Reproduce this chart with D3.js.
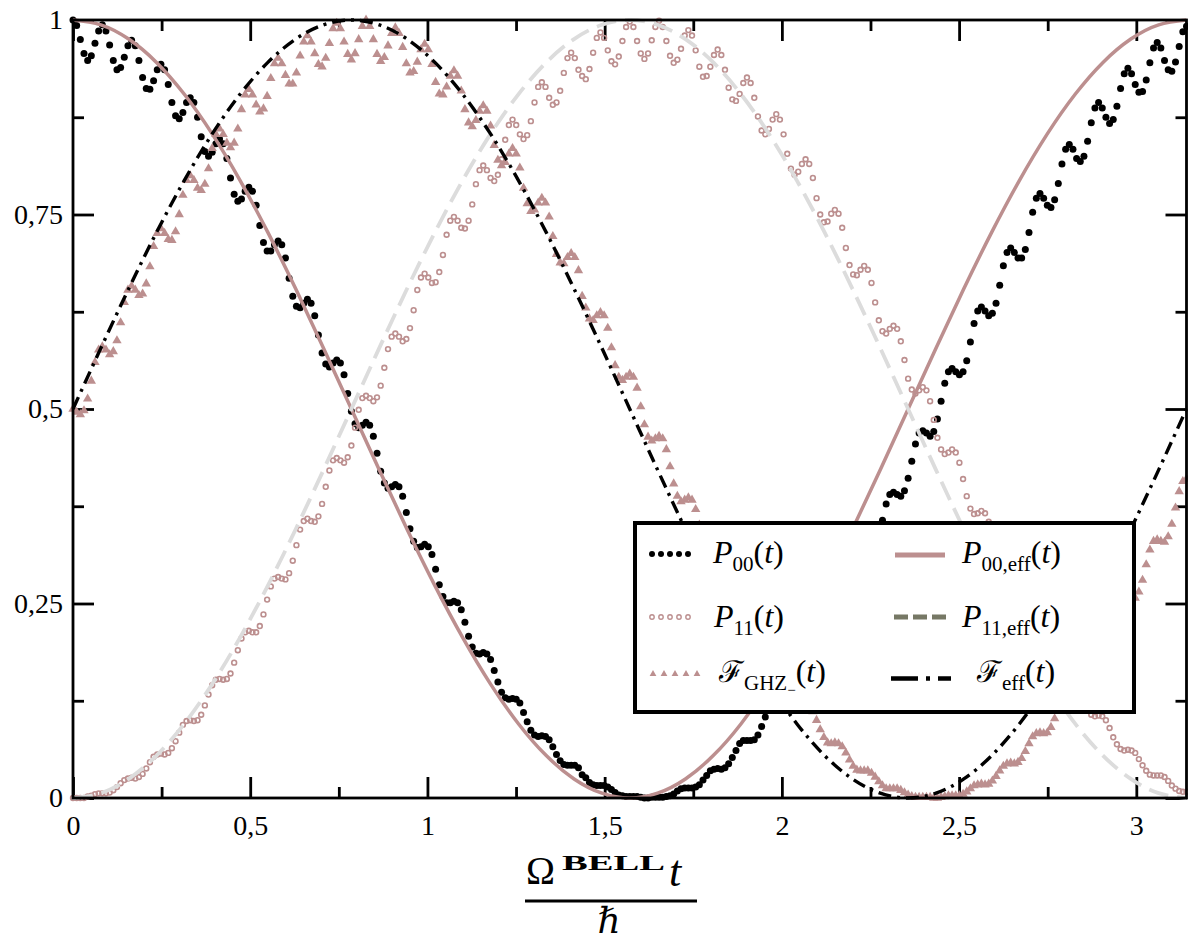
<!DOCTYPE html>
<html><head><meta charset="utf-8">
<script src="https://cdn.jsdelivr.net/npm/d3@7"></script>
<style>body{margin:0;background:#fff} svg{display:block}</style>
</head><body>
<svg id="c" width="1188" height="941"></svg>
<script>
const T_MAX = Math.PI;
const SAMPLE_STEPS = 304; // marker series sampled at t = i*pi/304

const P00 = [
1.000,0.993,0.975,0.957,0.948,0.954,0.970,0.986,
0.994,0.986,0.968,0.948,0.936,0.939,0.952,0.967,
0.974,0.967,0.948,0.926,0.912,0.911,0.922,0.936,
0.943,0.936,0.917,0.894,0.877,0.873,0.881,0.894,
0.900,0.894,0.875,0.850,0.831,0.825,0.830,0.841,
0.847,0.841,0.822,0.797,0.776,0.767,0.770,0.780,
0.785,0.780,0.762,0.736,0.714,0.703,0.703,0.711,
0.716,0.711,0.694,0.668,0.645,0.632,0.630,0.636,
0.641,0.636,0.620,0.595,0.572,0.558,0.554,0.559,
0.563,0.559,0.544,0.520,0.497,0.481,0.476,0.479,
0.483,0.479,0.465,0.443,0.420,0.405,0.398,0.400,
0.403,0.400,0.388,0.367,0.346,0.330,0.322,0.323,
0.326,0.323,0.313,0.294,0.274,0.259,0.251,0.251,
0.253,0.251,0.242,0.226,0.208,0.194,0.186,0.185,
0.187,0.185,0.178,0.164,0.149,0.136,0.129,0.127,
0.128,0.127,0.122,0.110,0.098,0.087,0.081,0.079,
0.080,0.079,0.075,0.066,0.056,0.048,0.043,0.042,
0.042,0.042,0.039,0.030,0.026,0.020,0.017,0.016,
0.016,0.016,0.014,0.011,0.007,0.004,0.003,0.002,
0.002,0.002,0.002,0.001,0.000,0.000,0.001,0.001,
0.001,0.001,0.002,0.003,0.005,0.009,0.012,0.013,
0.013,0.013,0.014,0.017,0.023,0.029,0.035,0.037,
0.038,0.037,0.039,0.044,0.052,0.061,0.070,0.074,
0.074,0.074,0.075,0.081,0.092,0.104,0.115,0.121,
0.122,0.121,0.122,0.129,0.141,0.157,0.170,0.177,
0.179,0.177,0.178,0.186,0.200,0.217,0.234,0.242,
0.244,0.242,0.242,0.250,0.265,0.285,0.303,0.314,
0.316,0.314,0.313,0.320,0.336,0.357,0.378,0.390,
0.393,0.390,0.388,0.395,0.411,0.433,0.455,0.469,
0.472,0.469,0.465,0.471,0.487,0.510,0.533,0.548,
0.552,0.548,0.544,0.548,0.562,0.586,0.610,0.626,
0.631,0.626,0.620,0.623,0.636,0.659,0.684,0.701,
0.707,0.701,0.694,0.694,0.705,0.727,0.753,0.771,
0.777,0.771,0.762,0.759,0.769,0.790,0.815,0.834,
0.840,0.834,0.822,0.818,0.825,0.844,0.868,0.887,
0.894,0.887,0.875,0.867,0.872,0.889,0.912,0.931,
0.938,0.931,0.917,0.907,0.908,0.923,0.945,0.964,
0.971,0.964,0.948,0.936,0.934,0.946,0.966,0.985,
0.992];

const P11 = [
0.000,0.000,0.000,0.000,0.002,0.003,0.005,0.006,
0.006,0.006,0.007,0.010,0.014,0.019,0.023,0.025,
0.026,0.025,0.027,0.031,0.038,0.046,0.053,0.056,
0.057,0.056,0.058,0.064,0.073,0.084,0.094,0.099,
0.100,0.099,0.100,0.107,0.119,0.133,0.145,0.152,
0.153,0.152,0.153,0.160,0.174,0.190,0.205,0.213,
0.215,0.213,0.213,0.221,0.236,0.255,0.272,0.282,
0.284,0.282,0.281,0.289,0.305,0.325,0.345,0.356,
0.359,0.356,0.355,0.362,0.378,0.400,0.421,0.434,
0.437,0.434,0.431,0.438,0.453,0.476,0.499,0.514,
0.517,0.514,0.510,0.515,0.530,0.553,0.577,0.593,
0.597,0.593,0.587,0.590,0.604,0.627,0.653,0.669,
0.674,0.669,0.662,0.663,0.676,0.698,0.724,0.742,
0.747,0.742,0.733,0.732,0.742,0.763,0.789,0.807,
0.813,0.807,0.797,0.793,0.801,0.821,0.846,0.865,
0.872,0.865,0.853,0.847,0.852,0.870,0.894,0.914,
0.920,0.914,0.900,0.891,0.894,0.909,0.932,0.951,
0.958,0.951,0.936,0.928,0.924,0.937,0.958,0.977,
0.984,0.977,0.961,0.947,0.943,0.953,0.973,0.991,
0.998,0.991,0.973,0.957,0.950,0.957,0.974,0.991,
0.999,0.991,0.973,0.954,0.945,0.949,0.963,0.980,
0.987,0.980,0.961,0.940,0.927,0.928,0.940,0.955,
0.962,0.955,0.936,0.913,0.898,0.896,0.905,0.919,
0.926,0.919,0.900,0.876,0.858,0.853,0.860,0.872,
0.879,0.872,0.853,0.828,0.809,0.801,0.805,0.815,
0.821,0.815,0.797,0.771,0.750,0.740,0.741,0.751,
0.756,0.751,0.733,0.707,0.685,0.673,0.672,0.679,
0.684,0.679,0.662,0.637,0.614,0.600,0.597,0.603,
0.607,0.603,0.587,0.563,0.539,0.525,0.520,0.524,
0.528,0.524,0.510,0.486,0.463,0.448,0.442,0.444,
0.448,0.444,0.431,0.410,0.388,0.372,0.365,0.366,
0.369,0.366,0.355,0.335,0.314,0.299,0.291,0.291,
0.293,0.291,0.281,0.264,0.245,0.230,0.222,0.222,
0.223,0.222,0.213,0.198,0.181,0.168,0.160,0.159,
0.160,0.159,0.153,0.140,0.125,0.114,0.107,0.105,
0.106,0.105,0.100,0.090,0.078,0.069,0.063,0.061,
0.062,0.061,0.058,0.050,0.042,0.035,0.030,0.029,
0.029,0.029,0.027,0.022,0.016,0.012,0.009,0.008,
0.008];

const F_GHZ = [
0.500,0.496,0.493,0.498,0.513,0.536,0.560,0.576,
0.580,0.576,0.570,0.574,0.588,0.611,0.637,0.653,
0.658,0.653,0.646,0.648,0.661,0.683,0.709,0.726,
0.732,0.726,0.718,0.717,0.728,0.750,0.775,0.794,
0.800,0.794,0.784,0.781,0.789,0.809,0.835,0.853,
0.860,0.853,0.842,0.836,0.842,0.860,0.885,0.904,
0.911,0.904,0.891,0.882,0.886,0.902,0.925,0.944,
0.951,0.944,0.929,0.918,0.918,0.932,0.954,0.972,
0.980,0.972,0.957,0.943,0.940,0.951,0.970,0.989,
0.996,0.989,0.972,0.956,0.949,0.957,0.975,0.992,
1.000,0.992,0.975,0.956,0.947,0.952,0.967,0.983,
0.990,0.983,0.965,0.944,0.932,0.934,0.946,0.962,
0.969,0.962,0.943,0.920,0.905,0.904,0.914,0.928,
0.935,0.928,0.909,0.885,0.868,0.863,0.871,0.883,
0.890,0.883,0.864,0.839,0.820,0.813,0.817,0.828,
0.835,0.828,0.810,0.784,0.764,0.754,0.756,0.765,
0.771,0.765,0.747,0.722,0.699,0.688,0.687,0.695,
0.700,0.695,0.678,0.645,0.630,0.616,0.614,0.620,
0.624,0.620,0.604,0.579,0.556,0.541,0.537,0.541,
0.545,0.541,0.527,0.503,0.480,0.464,0.459,0.462,
0.465,0.462,0.448,0.426,0.404,0.388,0.381,0.383,
0.386,0.383,0.371,0.351,0.330,0.314,0.306,0.307,
0.309,0.307,0.297,0.279,0.259,0.244,0.236,0.236,
0.238,0.236,0.228,0.212,0.194,0.181,0.173,0.172,
0.173,0.172,0.165,0.152,0.137,0.125,0.117,0.116,
0.117,0.116,0.111,0.100,0.088,0.078,0.071,0.070,
0.071,0.070,0.066,0.058,0.049,0.041,0.036,0.035,
0.035,0.035,0.032,0.027,0.021,0.016,0.012,0.012,
0.012,0.012,0.010,0.007,0.004,0.002,0.001,0.001,
0.001,0.001,0.001,0.000,0.000,0.001,0.002,0.003,
0.003,0.003,0.003,0.005,0.008,0.012,0.016,0.017,
0.018,0.017,0.018,0.022,0.028,0.035,0.041,0.044,
0.045,0.044,0.046,0.051,0.060,0.070,0.079,0.083,
0.084,0.083,0.084,0.091,0.102,0.115,0.126,0.132,
0.133,0.132,0.133,0.141,0.153,0.169,0.183,0.191,
0.192,0.191,0.191,0.199,0.214,0.231,0.248,0.257,
0.259,0.257,0.257,0.265,0.280,0.300,0.319,0.330,
0.332,0.330,0.329,0.336,0.352,0.373,0.394,0.407,
0.410];

const EFF_STEPS = 40; // effective curves sampled at t = k*pi/40
const P00_EFF = [1.0000,0.9938,0.9755,0.9455,0.9045,0.8536,0.7939,0.7270,0.6545,0.5782,0.5000,0.4218,0.3455,0.2730,0.2061,0.1464,0.0955,0.0545,0.0245,0.0062,0.0000,0.0062,0.0245,0.0545,0.0955,0.1464,0.2061,0.2730,0.3455,0.4218,0.5000,0.5782,0.6545,0.7270,0.7939,0.8536,0.9045,0.9455,0.9755,0.9938,1.0000];
const P11_EFF = [0.0000,0.0062,0.0245,0.0545,0.0955,0.1464,0.2061,0.2730,0.3455,0.4218,0.5000,0.5782,0.6545,0.7270,0.7939,0.8536,0.9045,0.9455,0.9755,0.9938,1.0000,0.9938,0.9755,0.9455,0.9045,0.8536,0.7939,0.7270,0.6545,0.5782,0.5000,0.4218,0.3455,0.2730,0.2061,0.1464,0.0955,0.0545,0.0245,0.0062,0.0000];
const F_EFF = [0.5000,0.5782,0.6545,0.7270,0.7939,0.8536,0.9045,0.9455,0.9755,0.9938,1.0000,0.9938,0.9755,0.9455,0.9045,0.8536,0.7939,0.7270,0.6545,0.5782,0.5000,0.4218,0.3455,0.2730,0.2061,0.1464,0.0955,0.0545,0.0245,0.0062,0.0000,0.0062,0.0245,0.0545,0.0955,0.1464,0.2061,0.2730,0.3455,0.4218,0.5000];

const X_TICKS = [0,0.5,1,1.5,2,2.5,3];
const X_TICK_LABELS = ["0","0,5","1","1,5","2","2,5","3"];
const X_MINOR = [0.25,0.75,1.25,1.75,2.25,2.75];
const Y_TICKS = [0,0.25,0.5,0.75,1];
const Y_TICK_LABELS = ["0","0,25","0,5","0,75","1"];
const Y_MINOR = [0.125,0.375,0.625,0.875];

const ROSY = "#bc8f8f", GRAY = "#dcdcdc";
const SERIF = "'Liberation Serif','DejaVu Serif',serif";

const svg = d3.select("#c");
const L = 73, R = 1186.5, T = 20, B = 798;
const x = d3.scaleLinear().domain([0, T_MAX]).range([L, R]);
const y = d3.scaleLinear().domain([0, 1]).range([B, T]);
const tS = i => x(i * T_MAX / SAMPLE_STEPS);
const tE = i => x(i * T_MAX / EFF_STEPS);

// axes (ticks inward on all 4 sides)
function styleAxis(g){
  g.attr("font-family",SERIF).attr("font-size",28);
  g.select(".domain").remove();
  g.selectAll(".tick line").attr("stroke","#000").attr("stroke-width",2.8);
  g.selectAll("text").attr("font-family",SERIF).attr("font-size",28).attr("fill","#000");
}
const xLab = (d)=>X_TICK_LABELS[X_TICKS.indexOf(d)];
const yLab = (d)=>Y_TICK_LABELS[Y_TICKS.indexOf(d)];
svg.append("g").attr("transform",`translate(0,${B})`)
  .call(d3.axisBottom(x).tickValues(X_TICKS).tickFormat(xLab).tickSize(-21).tickPadding(17)).call(styleAxis);
svg.append("g").attr("transform",`translate(0,${B})`)
  .call(d3.axisBottom(x).tickValues(X_MINOR).tickFormat("").tickSize(-11)).call(styleAxis);
svg.append("g").attr("transform",`translate(0,${T})`)
  .call(d3.axisTop(x).tickValues(X_TICKS).tickFormat("").tickSize(-21)).call(styleAxis);
svg.append("g").attr("transform",`translate(0,${T})`)
  .call(d3.axisTop(x).tickValues(X_MINOR).tickFormat("").tickSize(-11)).call(styleAxis);
svg.append("g").attr("transform",`translate(${L},0)`)
  .call(d3.axisLeft(y).tickValues(Y_TICKS).tickFormat(yLab).tickSize(-21).tickPadding(10)).call(styleAxis);
svg.append("g").attr("transform",`translate(${L},0)`)
  .call(d3.axisLeft(y).tickValues(Y_MINOR).tickFormat("").tickSize(-11)).call(styleAxis);
svg.append("g").attr("transform",`translate(${R},0)`)
  .call(d3.axisRight(y).tickValues(Y_TICKS).tickFormat("").tickSize(-21)).call(styleAxis);
svg.append("g").attr("transform",`translate(${R},0)`)
  .call(d3.axisRight(y).tickValues(Y_MINOR).tickFormat("").tickSize(-11)).call(styleAxis);

// marker series
svg.append("g").selectAll("circle").data(P00).join("circle")
  .attr("cx",(d,i)=>tS(i)).attr("cy",d=>y(d)).attr("r",3.5).attr("fill","#000");
svg.append("g").selectAll("circle").data(P11).join("circle")
  .attr("cx",(d,i)=>tS(i)).attr("cy",d=>y(d)).attr("r",2.4)
  .attr("fill","none").attr("stroke",ROSY).attr("stroke-width",1.6);
const tri = d3.symbol(d3.symbolTriangle, 38)();
svg.append("g").selectAll("path").data(F_GHZ).join("path")
  .attr("d",tri).attr("transform",(d,i)=>`translate(${tS(i)},${y(d)})`).attr("fill",ROSY);

// effective curves
const effLine = d3.line().x((d,i)=>tE(i)).y(d=>y(d)).curve(d3.curveNatural);
svg.append("path").attr("d",effLine(P00_EFF)).attr("fill","none").attr("stroke",ROSY).attr("stroke-width",3.5);
svg.append("path").attr("d",effLine(P11_EFF)).attr("fill","none").attr("stroke",GRAY).attr("stroke-width",3.8).attr("stroke-dasharray","20,9");
svg.append("path").attr("d",effLine(F_EFF)).attr("fill","none").attr("stroke","#000").attr("stroke-width",3.4).attr("stroke-dasharray","13,6,3,6");

// frame
svg.append("rect").attr("x",L).attr("y",T).attr("width",R-L).attr("height",B-T)
  .attr("fill","none").attr("stroke","#000").attr("stroke-width",2.8);

// x-axis label (fraction)
const xl = svg.append("g").attr("font-family",SERIF).attr("fill","#000");
xl.append("text").attr("x",526).attr("y",884).attr("font-size",39).text("Ω");
xl.append("text").attr("x",562).attr("y",870).attr("font-size",22).attr("font-weight","bold")
  .attr("textLength",103).attr("lengthAdjust","spacingAndGlyphs").text("BELL");
xl.append("text").attr("x",669).attr("y",886).attr("font-size",44).attr("font-style","italic").text("t");
xl.append("line").attr("x1",525).attr("x2",697).attr("y1",901).attr("y2",901).attr("stroke","#000").attr("stroke-width",3);
xl.append("text").attr("x",609).attr("y",933).attr("font-size",36).attr("font-style","italic")
  .attr("text-anchor","middle").attr("font-family","'DejaVu Serif',serif").text("ℏ");

// legend
const lg = svg.append("g");
lg.append("rect").attr("x",635).attr("y",523).attr("width",499).attr("height",189)
  .attr("fill","#fff").attr("stroke","#000").attr("stroke-width",4);
const sx = [652,661,670,679,688];
lg.append("g").selectAll("circle").data(sx).join("circle").attr("cx",d=>d).attr("cy",554).attr("r",3).attr("fill","#000");
lg.append("g").selectAll("circle").data(sx).join("circle").attr("cx",d=>d).attr("cy",617).attr("r",2.2)
  .attr("fill","none").attr("stroke",ROSY).attr("stroke-width",1.4);
lg.append("g").selectAll("path").data([653,664,675,686,697]).join("path")
  .attr("d",d3.symbol(d3.symbolTriangle,20)()).attr("transform",d=>`translate(${d},674)`).attr("fill",ROSY);
lg.append("line").attr("x1",895).attr("x2",945).attr("y1",555).attr("y2",555).attr("stroke",ROSY).attr("stroke-width",5);
lg.append("line").attr("x1",894).attr("x2",947).attr("y1",617).attr("y2",617).attr("stroke","#767865").attr("stroke-width",5).attr("stroke-dasharray","14,5");
lg.append("line").attr("x1",891).attr("x2",951).attr("y1",678.5).attr("y2",678.5).attr("stroke","#000").attr("stroke-width",4.5).attr("stroke-dasharray","27,8,4,8");

function label(xp, yb, parts){
  const t = lg.append("text").attr("x",xp).attr("y",yb).attr("font-family",SERIF).attr("font-size",32).attr("fill","#000");
  let off = 0;
  parts.forEach(([s, kind])=>{
    let target = 0, fs = 32, st = "normal", fam = null;
    if (kind==="i") st = "italic";
    if (kind==="sub"){ target = 8; fs = 21; }
    if (kind==="subsub"){ target = 13; fs = 15; }
    if (kind==="script"){ fam = "'DejaVu Serif',serif"; fs = 30; }
    const sp = t.append("tspan").attr("dy", target - off).attr("font-size",fs).attr("font-style",st).text(s);
    if (fam) sp.attr("font-family",fam);
    off = target;
  });
}
label(713,563,[["P","i"],["00","sub"],["(","r"],["t","i"],[")","r"]]);
label(962,563,[["P","i"],["00,eff","sub"],["(","r"],["t","i"],[")","r"]]);
label(714,627,[["P","i"],["11","sub"],["(","r"],["t","i"],[")","r"]]);
label(962,627,[["P","i"],["11,eff","sub"],["(","r"],["t","i"],[")","r"]]);
label(719,682,[["ℱ","script"],["GHZ","sub"],["−","subsub"],["(","r"],["t","i"],[")","r"]]);
label(977,682,[["ℱ","script"],["eff","sub"],["(","r"],["t","i"],[")","r"]]);
</script>
</body></html>
